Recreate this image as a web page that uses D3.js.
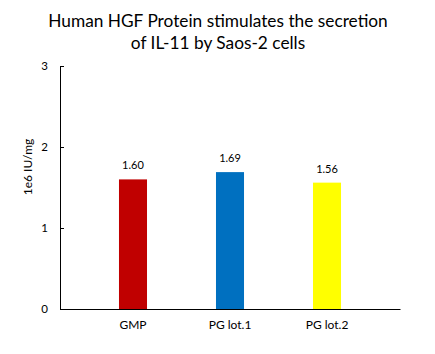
<!DOCTYPE html>
<html>
<head>
<meta charset="utf-8">
<script src="https://cdn.jsdelivr.net/npm/d3@7"></script>
<style>
  body { margin: 0; background: #fff; }
  text { font-family: Lato, "Open Sans", sans-serif; fill: #000; }
</style>
</head>
<body>
<script>
var categories = ["GMP", "PG lot.1", "PG lot.2"];
var values = [1.60, 1.69, 1.56];
var colors = ["#C00000", "#0070C0", "#FFFF00"];
var yTicks = [0, 1, 2, 3];
var titleLines = ["Human HGF Protein stimulates the secretion", "of IL-11 by Saos-2 cells"];
var yLabel = "1e6 IU/mg";

var width = 435, height = 354;
var margin = { left: 60, right: 35, top: 66, bottom: 45 };

var svg = d3.select("body").append("svg")
    .attr("width", width)
    .attr("height", height);

var xScale = d3.scaleBand()
    .domain(categories)
    .range([margin.left, width - margin.right])
    .paddingInner(0.711)
    .paddingOuter(0.608);

var yScale = d3.scaleLinear()
    .domain([0, 3])
    .range([height - margin.bottom, margin.top]);

// title
svg.selectAll(".title")
    .data(titleLines)
    .enter().append("text")
    .attr("class", "title")
    .attr("x", 218)
    .attr("y", function(d, i) { return 27 + i * 22; })
    .attr("text-anchor", "middle")
    .style("font-size", "17.3px")
    .text(function(d) { return d; });

// y axis
var yAxis = d3.axisLeft(yScale)
    .tickValues(yTicks)
    .tickFormat(d3.format("d"))
    .tickSizeInner(-4)
    .tickSizeOuter(0)
    .tickPadding(12);

var gy = svg.append("g")
    .attr("transform", "translate(" + margin.left + ",0)")
    .call(yAxis);
gy.select(".domain").attr("stroke", "#000");
gy.selectAll("line").attr("stroke", "#000");
gy.selectAll("text").style("font-size", "11.5px").style("font-family", "Lato, sans-serif");

// x axis
var xAxis = d3.axisBottom(xScale)
    .tickSize(0)
    .tickPadding(11);

var gx = svg.append("g")
    .attr("transform", "translate(0," + yScale(0) + ")")
    .call(xAxis);
gx.select(".domain").attr("stroke", "#000");
gx.selectAll("text").style("font-size", "12px").style("font-family", "Lato, sans-serif");

// bars
svg.selectAll(".bar")
    .data(values)
    .enter().append("rect")
    .attr("class", "bar")
    .attr("x", function(d, i) { return xScale(categories[i]); })
    .attr("width", xScale.bandwidth())
    .attr("y", function(d) { return yScale(d); })
    .attr("height", function(d) { return yScale(0) - yScale(d); })
    .style("fill", function(d, i) { return colors[i]; });

// value labels
svg.selectAll(".val")
    .data(values)
    .enter().append("text")
    .attr("class", "val")
    .attr("x", function(d, i) { return xScale(categories[i]) + xScale.bandwidth() / 2; })
    .attr("y", function(d) { return yScale(d) - 10; })
    .attr("text-anchor", "middle")
    .style("font-size", "11px")
    .text(function(d) { return d3.format(".2f")(d); });

// y label
svg.append("text")
    .attr("transform", "translate(32,167) rotate(-90)")
    .attr("text-anchor", "middle")
    .style("font-size", "12px")
    .text(yLabel);
</script>
</body>
</html>
